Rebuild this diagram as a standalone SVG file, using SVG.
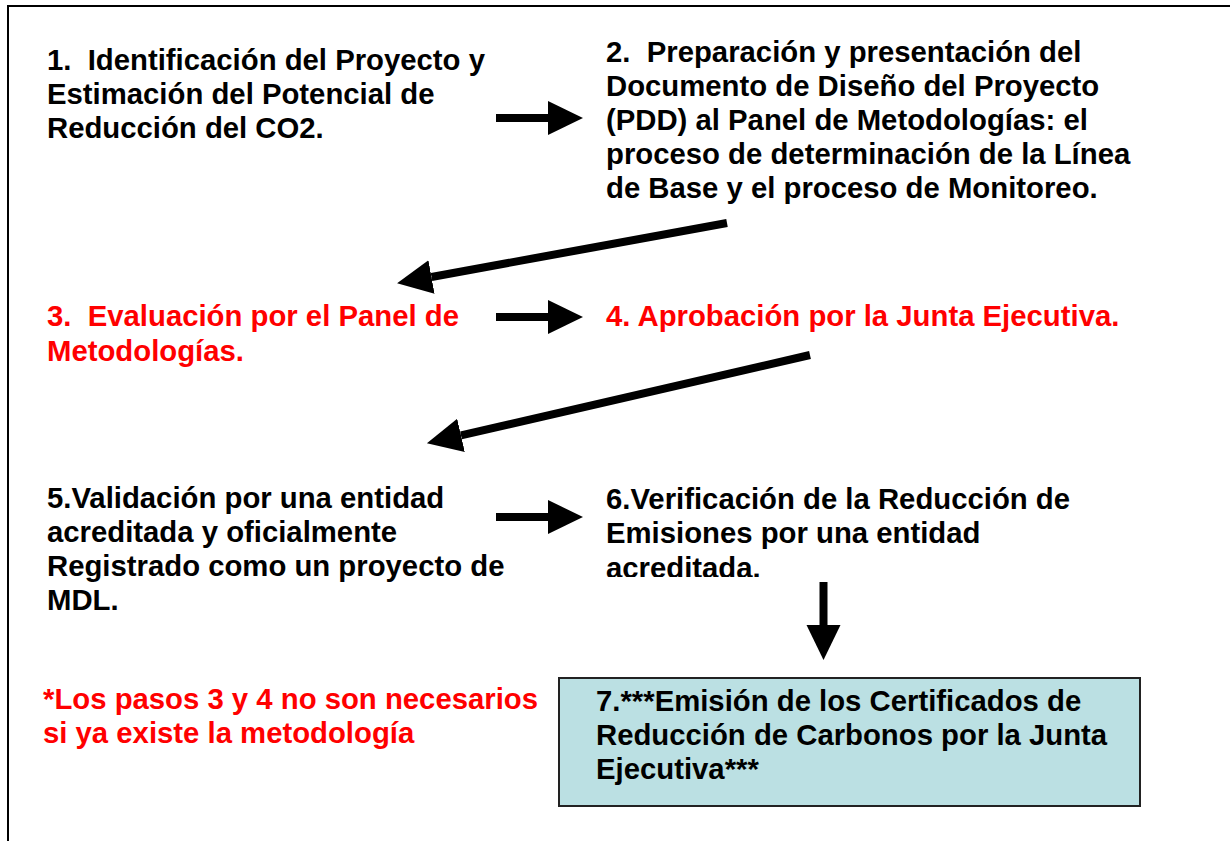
<svg xmlns="http://www.w3.org/2000/svg" width="1230" height="841" viewBox="0 0 1230 841">
<style>
.t{font-family:"Liberation Sans",Arial,sans-serif;font-weight:bold;font-size:29.3px;fill:#000;white-space:pre}
.r{fill:#FF0000}
.c{stroke:#000;stroke-width:8;fill:none;marker-end:url(#ah)}
</style>
<defs>
<marker id="ah" markerUnits="userSpaceOnUse" markerWidth="36" markerHeight="36" refX="0" refY="17" orient="auto">
<path d="M0,0 L35,17 L0,34 z" fill="#000"/>
</marker>
<clipPath id="clip6"><rect x="590" y="470" width="520" height="107"/></clipPath>
</defs>
<rect x="8" y="6" width="1250" height="860" fill="#fff" stroke="#000" stroke-width="2"/>
<g id="connectors">
<line class="c" x1="496" y1="118" x2="548" y2="118"/>
<line class="c" x1="727" y1="223" x2="431.5" y2="277"/>
<line class="c" x1="496" y1="317" x2="548" y2="317"/>
<line class="c" x1="810" y1="355" x2="461" y2="435.4"/>
<line class="c" x1="496" y1="517" x2="548" y2="517"/>
<line class="c" x1="823.5" y1="582" x2="823.5" y2="625"/>
</g>
<g id="n1">
<text class="t" x="47" y="70" xml:space="preserve">1.  Identificación del Proyecto y</text>
<text class="t" x="47" y="104">Estimación del Potencial de</text>
<text class="t" x="47" y="138">Reducción del CO2.</text>
</g>
<g id="n2">
<text class="t" x="606" y="62" xml:space="preserve">2.  Preparación y presentación del</text>
<text class="t" x="606" y="96">Documento de Diseño del Proyecto</text>
<text class="t" x="606" y="130">(PDD) al Panel de Metodologías: el</text>
<text class="t" x="606" y="164">proceso de determinación de la Línea</text>
<text class="t" x="606" y="198">de Base y el proceso de Monitoreo.</text>
</g>
<g id="n3">
<text class="t r" x="47" y="326" xml:space="preserve">3.  Evaluación por el Panel de</text>
<text class="t r" x="47" y="361">Metodologías.</text>
</g>
<g id="n4">
<text class="t r" x="606" y="326">4. Aprobación por la Junta Ejecutiva.</text>
</g>
<g id="n5">
<text class="t" x="47" y="508">5.Validación por una entidad</text>
<text class="t" x="47" y="542">acreditada y oficialmente</text>
<text class="t" x="47" y="576">Registrado como un proyecto de</text>
<text class="t" x="47" y="610">MDL.</text>
</g>
<g id="n6" clip-path="url(#clip6)">
<text class="t" x="606" y="509">6.Verificación de la Reducción de</text>
<text class="t" x="606" y="543">Emisiones por una entidad</text>
<text class="t" x="606" y="578">acreditada.</text>
</g>
<g id="note">
<text class="t r" x="43" y="709">*Los pasos 3 y 4 no son necesarios</text>
<text class="t r" x="43" y="743">si ya existe la metodología</text>
</g>
<g id="n7">
<rect x="559" y="678" width="581" height="128" fill="#BBE0E3" stroke="#222" stroke-width="2"/>
<text class="t" x="596" y="711">7.***Emisión de los Certificados de</text>
<text class="t" x="596" y="745">Reducción de Carbonos por la Junta</text>
<text class="t" x="596" y="779">Ejecutiva***</text>
</g>
</svg>
